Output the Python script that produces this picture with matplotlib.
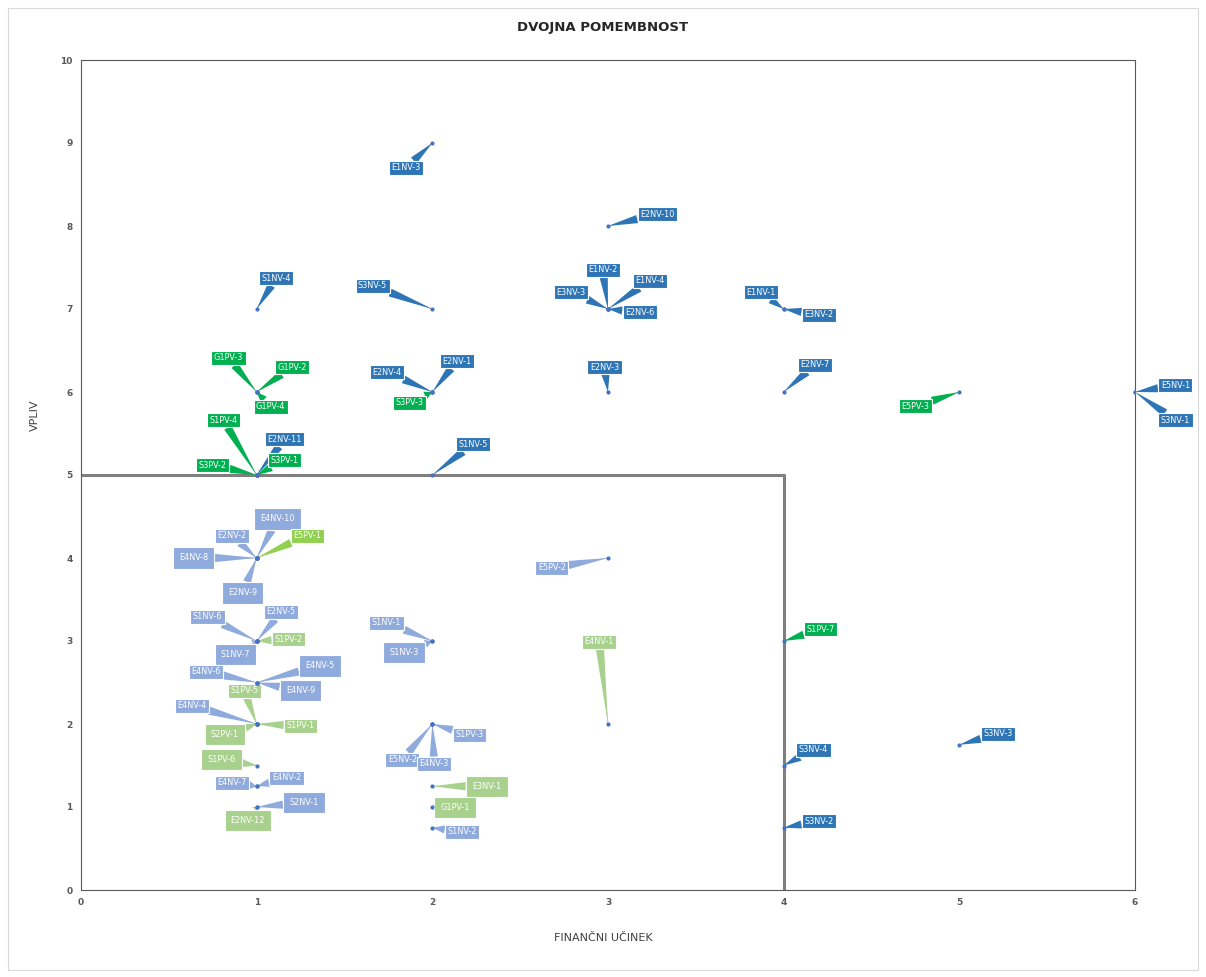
import matplotlib
matplotlib.use("Agg")
import matplotlib.pyplot as plt

# ---------------- data ----------------
# dark blue series
dark_labels = ["E1NV-3", "E2NV-10", "S1NV-4", "S3NV-5", "E1NV-2", "E1NV-4", "E3NV-3", "E2NV-6",
               "E1NV-1", "E3NV-2", "E2NV-7", "E2NV-3", "E2NV-1", "E2NV-4", "S1NV-5", "E2NV-11",
               "E5NV-1", "S3NV-1", "S3NV-4", "S3NV-2", "S3NV-3"]
dark_x = [2, 3, 1, 2, 3, 3, 3, 3, 4, 4, 4, 3, 2, 2, 2, 1, 6, 6, 4, 4, 5]
dark_y = [9, 8, 7, 7, 7, 7, 7, 7, 7, 7, 6, 6, 6, 6, 5, 5, 6, 6, 1.5, 0.75, 1.75]

# green series
green_labels = ["G1PV-3", "G1PV-2", "G1PV-4", "S1PV-4", "S3PV-2", "S3PV-1", "S3PV-3", "E5PV-3", "S1PV-7"]
green_x = [1, 1, 1, 1, 1, 1, 2, 5, 4]
green_y = [6, 6, 6, 5, 5, 5, 6, 6, 3]

# light blue series
lblue_labels = ["E4NV-10", "E2NV-2", "E4NV-8", "E2NV-9", "E5PV-2", "S1NV-6", "E2NV-5", "S1NV-7",
                "E4NV-6", "E4NV-5", "E4NV-9", "E4NV-4", "S1NV-1", "S1NV-3", "E4NV-7", "E4NV-2",
                "S2NV-1", "E5NV-2", "E4NV-3", "S1PV-3", "S1NV-2"]
lblue_x = [1, 1, 1, 1, 3, 1, 1, 1, 1, 1, 1, 1, 2, 2, 1, 1, 1, 2, 2, 2, 2]
lblue_y = [4, 4, 4, 4, 4, 3, 3, 3, 2.5, 2.5, 2.5, 2, 3, 3, 1.25, 1.25, 1, 2, 2, 2, 0.75]

# light green series
lgreen_labels = ["S1PV-2", "S1PV-5", "S1PV-1", "S2PV-1", "S1PV-6", "E2NV-12", "E4NV-1", "E3NV-1", "G1PV-1"]
lgreen_x = [1, 1, 1, 1, 1, 1, 3, 2, 2]
lgreen_y = [3, 2, 2, 2, 1.5, 1, 2, 1.25, 1]

# bright light-green series
bgreen_labels = ["E5PV-1"]
bgreen_x = [1]
bgreen_y = [4]

# box of the lower-left region
box_x = [0, 4, 4]
box_y = [5, 5, 0]

x_ticks = [0, 1, 2, 3, 4, 5, 6]
y_ticks = [0, 1, 2, 3, 4, 5, 6, 7, 8, 9, 10]

# ---------------- label placement ----------------
label_pos = {
    "E1NV-3": (1.85, 8.7), "E2NV-10": (3.28, 8.14), "S1NV-4": (1.11, 7.37), "S3NV-5": (1.66, 7.28),
    "E1NV-2": (2.97, 7.47), "E1NV-4": (3.24, 7.34), "E3NV-3": (2.79, 7.20), "E2NV-6": (3.18, 6.96),
    "E1NV-1": (3.87, 7.20), "E3NV-2": (4.20, 6.93), "E2NV-7": (4.18, 6.33), "E2NV-3": (2.98, 6.30),
    "E2NV-1": (2.14, 6.37), "E2NV-4": (1.74, 6.24), "S1NV-5": (2.23, 5.37), "E2NV-11": (1.16, 5.43),
    "E5NV-1": (6.23, 6.08), "S3NV-1": (6.23, 5.66), "S3NV-4": (4.17, 1.69), "S3NV-2": (4.20, 0.83),
    "S3NV-3": (5.22, 1.88),
    "G1PV-3": (0.84, 6.41), "G1PV-2": (1.20, 6.30), "G1PV-4": (1.08, 5.82), "S1PV-4": (0.81, 5.66),
    "S3PV-2": (0.75, 5.12), "S3PV-1": (1.16, 5.18), "S3PV-3": (1.87, 5.87), "E5PV-3": (4.75, 5.83),
    "S1PV-7": (4.21, 3.14),
    "E4NV-10": (1.12, 4.47), "E2NV-2": (0.86, 4.27), "E4NV-8": (0.64, 4.0), "E2NV-9": (0.92, 3.58),
    "E5PV-2": (2.68, 3.88), "S1NV-6": (0.72, 3.29), "E2NV-5": (1.14, 3.35), "S1NV-7": (0.88, 2.84),
    "E4NV-6": (0.71, 2.63), "E4NV-5": (1.36, 2.70), "E4NV-9": (1.25, 2.40), "E4NV-4": (0.63, 2.22),
    "S1NV-1": (1.74, 3.22), "S1NV-3": (1.84, 2.86), "E4NV-7": (0.86, 1.29), "E4NV-2": (1.17, 1.35),
    "S2NV-1": (1.27, 1.05), "E5NV-2": (1.83, 1.57), "E4NV-3": (2.01, 1.52), "S1PV-3": (2.21, 1.87),
    "S1NV-2": (2.17, 0.70),
    "S1PV-2": (1.18, 3.02), "S1PV-5": (0.93, 2.40), "S1PV-1": (1.25, 1.98), "S2PV-1": (0.82, 1.87),
    "S1PV-6": (0.80, 1.57), "E2NV-12": (0.95, 0.84), "E4NV-1": (2.95, 2.99), "E3NV-1": (2.31, 1.25),
    "G1PV-1": (2.13, 0.99),
    "E5PV-1": (1.29, 4.27),
}
big_labels = {"E4NV-10", "E4NV-8", "E2NV-9", "S1NV-7", "S1NV-3", "E4NV-5", "E4NV-9", "S2PV-1",
              "S1PV-6", "S2NV-1", "E2NV-12", "E3NV-1", "G1PV-1"}

series = [
    (dark_labels, dark_x, dark_y, "#2E75B6"),
    (green_labels, green_x, green_y, "#00B050"),
    (lblue_labels, lblue_x, lblue_y, "#8FAADC"),
    (lgreen_labels, lgreen_x, lgreen_y, "#A9D18E"),
    (bgreen_labels, bgreen_x, bgreen_y, "#92D050"),
]

# ---------------- figure ----------------
fig = plt.figure(figsize=(12.06, 9.77), dpi=100)
ax = fig.add_axes([81 / 1206, 87 / 977, (1135 - 81) / 1206, (890 - 60) / 977])

ax.set_xlim(0, 6)
ax.set_ylim(0, 10)
ax.set_xticks(x_ticks)
ax.set_yticks(y_ticks)
ax.tick_params(labelsize=6.5, length=0, colors="#595959", pad=6)
for t in ax.get_xticklabels() + ax.get_yticklabels():
    t.set_fontweight("bold")
for s in ax.spines.values():
    s.set_color("#595959")
    s.set_linewidth(0.8)

ax.plot(box_x, box_y, color="#7F7F7F", lw=2.2, zorder=2, solid_capstyle="butt")

for labels, xs, ys, col in series:
    ax.scatter(xs, ys, s=4, color="#4472C4", zorder=5)
    for lab, x, y in zip(labels, xs, ys):
        lx, ly = label_pos[lab]
        pad = 0.75 if lab in big_labels else 0.3
        # thin grey leader line
        rel = (1.0 if lx < x else 0.0, 1.0 if ly < y else 0.0)
        ax.annotate("", xy=(x, y), xytext=(lx, ly),
                    arrowprops=dict(arrowstyle="-", color="#BFBFBF", lw=0.6,
                                    shrinkA=0, shrinkB=0, relpos=rel),
                    zorder=3)
        ax.annotate(lab, xy=(x, y), xytext=(lx, ly), ha="center", va="center",
                    fontsize=5.9, color="white", family="DejaVu Sans",
                    bbox=dict(boxstyle=f"square,pad={pad}", fc=col, ec="white", lw=0.8),
                    arrowprops=dict(arrowstyle="wedge,tail_width=1.0", fc=col, ec="none",
                                    shrinkA=0, shrinkB=0),
                    zorder=4)

fig.text(0.5, 1 - 27 / 977, "DVOJNA POMEMBNOST", ha="center", va="center",
         fontsize=9.5, fontweight="bold", color="#262626")
fig.text(0.5, 1 - 938 / 977, "FINANČNI UČINEK", ha="center", va="center",
         fontsize=8, color="#404040")
fig.text(35 / 1206, 1 - 415 / 977, "VPLIV", ha="center", va="center", rotation=90,
         fontsize=8, color="#404040")

# outer chart border
fig.patches.append(plt.Rectangle((8 / 1206, 1 - 970 / 977), 1190 / 1206, 962 / 977,
                                 transform=fig.transFigure, fill=False, ec="#D9D9D9", lw=0.8))

fig.savefig("out.png", dpi=100, facecolor="white")
